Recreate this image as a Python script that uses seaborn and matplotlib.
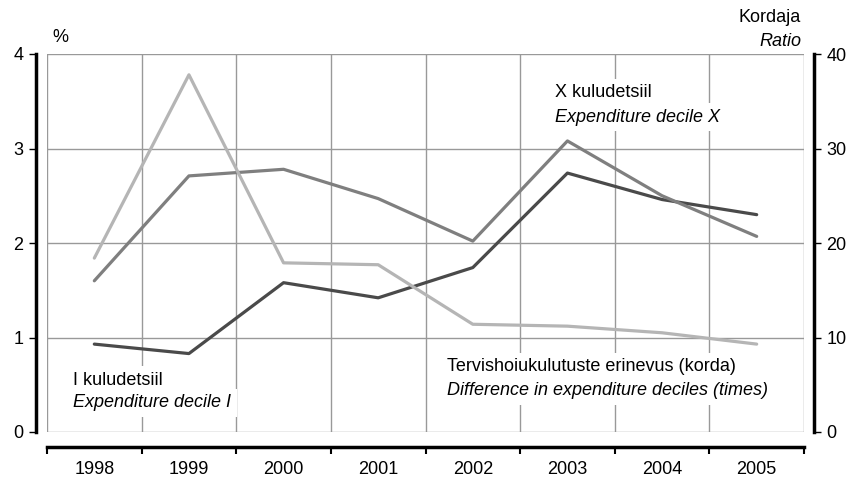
import matplotlib
matplotlib.use("Agg")
import matplotlib.pyplot as plt
import seaborn as sns
import pandas as pd
import numpy as np
from matplotlib.ticker import FixedLocator

years = ["1998", "1999", "2000", "2001", "2002", "2003", "2004", "2005"]
decile_i = [0.93, 0.83, 1.58, 1.42, 1.74, 2.74, 2.46, 2.30]
decile_x = [1.60, 2.71, 2.78, 2.47, 2.02, 3.08, 2.50, 2.07]
ratio = [18.4, 37.8, 17.9, 17.7, 11.4, 11.2, 10.5, 9.3]

sns.set_theme(style="white")
plt.rcParams["font.family"] = ["Liberation Sans", "DejaVu Sans"]
plt.rcParams["text.color"] = "black"
plt.rcParams["xtick.color"] = "black"
plt.rcParams["ytick.color"] = "black"
plt.rcParams["xtick.labelcolor"] = "black"
plt.rcParams["ytick.labelcolor"] = "black"

FS = 13

pos = np.arange(len(years))
df_left = pd.DataFrame({
    "pos": np.concatenate([pos, pos]),
    "value": decile_i + decile_x,
    "series": ["I"] * len(years) + ["X"] * len(years),
})
df_right = pd.DataFrame({"pos": pos, "value": ratio})

fig = plt.figure(figsize=(8.46, 4.79), dpi=100)
ax = fig.add_axes([47 / 846, 1 - 432 / 479, (804 - 47) / 846, (432 - 54) / 479])
ax2 = ax.twinx()

sns.lineplot(data=df_left, x="pos", y="value", hue="series",
             palette={"I": "#4a4a4a", "X": "#7f7f7f"}, linewidth=2.3,
             legend=False, ax=ax, zorder=3)
sns.lineplot(data=df_right, x="pos", y="value", color="#b5b5b5",
             linewidth=2.3, legend=False, ax=ax2, zorder=3)

ax.set_xlim(-0.5, len(years) - 0.5)
ax.set_ylim(0, 4)
ax2.set_ylim(0, 40)

# ticks
ax.set_xticks(pos)
ax.set_xticklabels(years, fontsize=FS, color="black")
ax.xaxis.set_minor_locator(FixedLocator(np.arange(-0.5, len(years), 1.0)))
ax.tick_params(axis="x", which="major", length=0, pad=10, labelsize=FS)
ax.tick_params(axis="x", which="minor", length=5, width=1.5, color="black", direction="out", bottom=True)
ax.set_yticks([0, 1, 2, 3, 4])
ax.set_yticklabels(["0", "1", "2", "3", "4"], fontsize=FS, color="black")
ax.tick_params(axis="y", length=5, width=1.0, color="black", direction="out", left=True, pad=4, labelsize=FS)
ax2.set_yticks([0, 10, 20, 30, 40])
ax2.set_yticklabels(["0", "10", "20", "30", "40"], fontsize=FS, color="black")
ax2.tick_params(axis="y", length=5, width=1.0, color="black", direction="out", right=True, pad=4, labelsize=FS)

ax.set_xlabel("")
ax.set_ylabel("")
ax2.set_xlabel("")
ax2.set_ylabel("")

# grid
ax.grid(False)
ax2.grid(False)
ax.yaxis.grid(True, color="#999999", linewidth=1.0)
ax.xaxis.grid(True, which="minor", color="#999999", linewidth=1.0)
ax.set_axisbelow(True)

# spines
for s in ["top", "right"]:
    ax.spines[s].set_visible(False)
for s in ["top", "left", "bottom"]:
    ax2.spines[s].set_visible(False)
ax.spines["left"].set_position(("outward", 8))
ax.spines["bottom"].set_position(("outward", 11))
ax2.spines["right"].set_position(("outward", 7))
for sp in [ax.spines["left"], ax.spines["bottom"], ax2.spines["right"]]:
    sp.set_color("black")
    sp.set_linewidth(2.5)

# annotations
bb = dict(facecolor="white", edgecolor="none", pad=4)
ax.text(4.87, 3.59, "X kuludetsiil", fontsize=FS, va="center", ha="left", bbox=bb, zorder=2)
ax.text(4.87, 3.33, "Expenditure decile X", fontsize=FS, style="italic", va="center", ha="left", bbox=bb, zorder=2)
ax.text(-0.225, 0.55, "I kuludetsiil", fontsize=FS, va="center", ha="left", bbox=bb, zorder=2)
ax.text(-0.225, 0.31, "Expenditure decile I", fontsize=FS, style="italic", va="center", ha="left", bbox=bb, zorder=2)
ax.text(3.73, 0.69, "Tervishoiukulutuste erinevus (korda)", fontsize=FS, va="center", ha="left", bbox=bb, zorder=2)
ax.text(3.73, 0.44, "Difference in expenditure deciles (times)", fontsize=FS, style="italic", va="center", ha="left", bbox=bb, zorder=2)

fig.text(60 / 846, 1 - 38 / 479, "%", fontsize=FS, ha="center", va="center")
fig.text(801 / 846, 1 - 17 / 479, "Kordaja", fontsize=FS, ha="right", va="center")
fig.text(801 / 846, 1 - 41 / 479, "Ratio", fontsize=FS, ha="right", va="center", style="italic")

fig.savefig("out.png", dpi=100)
